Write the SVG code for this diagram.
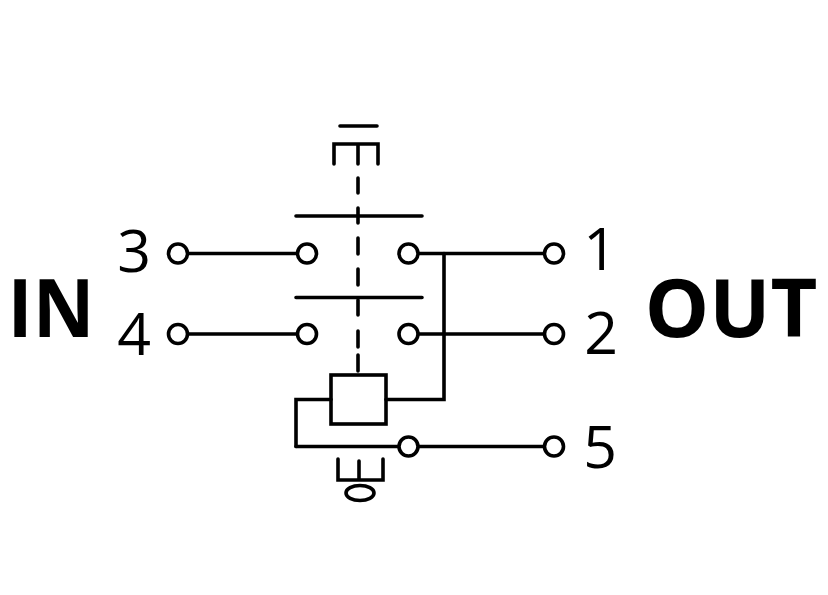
<svg xmlns="http://www.w3.org/2000/svg" width="828" height="595" viewBox="0 0 828 595">
<style>
.l{fill:none;stroke:#000;stroke-width:3.6;stroke-linecap:round;stroke-linejoin:miter}
.c{fill:#fff;stroke:#000;stroke-width:3.6}
.n{font-family:"Open Sans","Noto Sans",sans-serif;font-size:59px;fill:#000;text-anchor:middle}
.b{font-family:"Open Sans","Noto Sans",sans-serif;font-size:81px;font-weight:700;fill:#000;text-anchor:middle}
</style>
<rect width="828" height="595" fill="#fff"/>
<g id="connectors">
<path class="l" d="M178 253.500H307M178 334H307M408 253.500H554M408 334H554M296 446.500H554"/>
<path class="l" d="M444 253.500V399.500H386M331 399.500H296V446.500"/>
<path class="l" d="M296 216H422M296 297.500H422"/>
<path class="l" d="M358 178V193M358 208V223M358 238V254M358 269V285M358 300V315M358 331V347M358 355V371"/>
</g>
<g id="push-button"><path class="l" d="M340 126H377M334 164V144H378V164M358 144V164"/></g>
<g id="coil"><rect class="l" x="331" y="375" width="55" height="49"/></g>
<g id="base"><path class="l" d="M338 459V480H383V459M359 461V480"/><ellipse class="l" cx="360" cy="493" rx="14" ry="7.500"/></g>
<g id="terminal-3"><circle class="c" cx="178" cy="253.500" r="9.500"/><text class="n" x="134" y="272">3</text></g>
<g id="terminal-4"><circle class="c" cx="178" cy="334" r="9.500"/><text class="n" x="134" y="355">4</text></g>
<g id="contact-3"><circle class="c" cx="307" cy="253.500" r="9.500"/></g>
<g id="contact-4"><circle class="c" cx="307" cy="334" r="9.500"/></g>
<g id="contact-1"><circle class="c" cx="408.500" cy="253.500" r="9.500"/></g>
<g id="contact-2"><circle class="c" cx="408.500" cy="334" r="9.500"/></g>
<g id="contact-5"><circle class="c" cx="408.500" cy="446.500" r="9.500"/></g>
<g id="terminal-1"><circle class="c" cx="554" cy="253.500" r="9.500"/><text class="n" x="600" y="270">1</text></g>
<g id="terminal-2"><circle class="c" cx="554" cy="334" r="9.500"/><text class="n" x="601" y="354">2</text></g>
<g id="terminal-5"><circle class="c" cx="554" cy="446.500" r="9.500"/><text class="n" x="600" y="468">5</text></g>
<g id="in"><text class="b" x="51" y="337" textLength="87" lengthAdjust="spacingAndGlyphs">IN</text></g>
<g id="out"><text class="b" x="731" y="337">OUT</text></g>
</svg>
